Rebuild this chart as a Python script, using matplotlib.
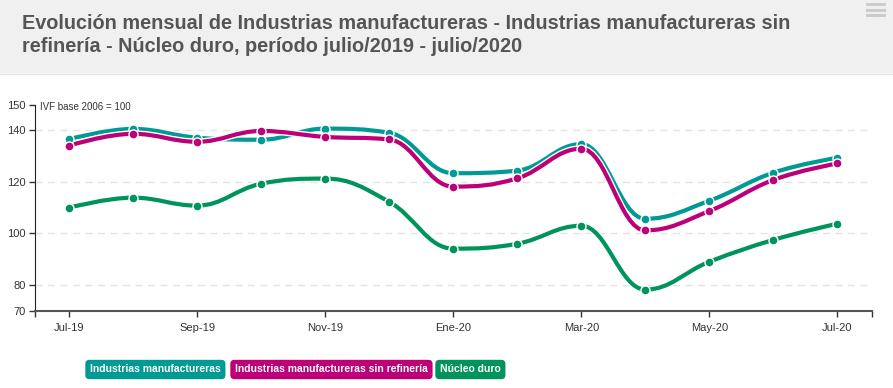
import numpy as np
import matplotlib
matplotlib.use('Agg')
import matplotlib.pyplot as plt
from matplotlib.path import Path
from matplotlib.patches import PathPatch, Rectangle
from matplotlib.lines import Line2D
import matplotlib.patheffects as pe

plt.rcParams['font.family'] = ['Liberation Sans', 'DejaVu Sans']

# data
months = ['Jul-19', 'Ago-19', 'Sep-19', 'Oct-19', 'Nov-19', 'Dic-19', 'Ene-20',
          'Feb-20', 'Mar-20', 'Abr-20', 'May-20', 'Jun-20', 'Jul-20']
ind_manuf = [136.6, 140.6, 137.2, 136.4, 140.7, 139.1, 123.4,
             124.4, 134.7, 105.7, 112.7, 123.6, 129.4]
ind_sin_ref = [134.1, 138.7, 135.6, 139.8, 137.5, 136.5, 118.2,
               121.4, 132.9, 101.2, 108.7, 120.8, 127.2]
nucleo_duro = [110.0, 113.9, 110.8, 119.3, 121.3, 112.3, 94.1,
               96.0, 103.0, 78.2, 89.0, 97.5, 103.8]
series_names = ['Industrias manufactureras',
                'Industrias manufactureras sin refinería',
                'Núcleo duro']
colors = ['#009a94', '#bb0078', '#00935c']
y_ticks = [70, 80, 100, 120, 140, 150]
grid_vals = [80, 100, 120, 140]

title = ('Evolución mensual de Industrias manufactureras - Industrias manufactureras sin\n'
         'refinería - Núcleo duro, período julio/2019 - julio/2020')


def spline_path(xs, ys, smoothing=1.5):
    # highcharts-like spline control points
    n = len(xs)
    denom = smoothing + 1
    lc = [(xs[i], ys[i]) for i in range(n)]
    rc = [(xs[i], ys[i]) for i in range(n)]
    for i in range(1, n - 1):
        px, py = xs[i], ys[i]
        lx, ly = xs[i - 1], ys[i - 1]
        nx, ny = xs[i + 1], ys[i + 1]
        lcx = (smoothing * px + lx) / denom
        lcy = (smoothing * py + ly) / denom
        rcx = (smoothing * px + nx) / denom
        rcy = (smoothing * py + ny) / denom
        corr = (rcy - lcy) * (rcx - px) / (rcx - lcx) + py - rcy
        lcy += corr
        rcy += corr
        if lcy > ly and lcy > py:
            lcy = max(ly, py); rcy = 2 * py - lcy
        elif lcy < ly and lcy < py:
            lcy = min(ly, py); rcy = 2 * py - lcy
        if rcy > ny and rcy > py:
            rcy = max(ny, py); lcy = 2 * py - rcy
        elif rcy < ny and rcy < py:
            rcy = min(ny, py); lcy = 2 * py - rcy
        lc[i] = (lcx, lcy)
        rc[i] = (rcx, rcy)
    verts = [(xs[0], ys[0])]
    codes = [Path.MOVETO]
    for i in range(1, n):
        verts += [rc[i - 1], lc[i], (xs[i], ys[i])]
        codes += [Path.CURVE4] * 3
    return Path(verts, codes)


fig = plt.figure(figsize=(8.93, 3.88), dpi=100)
W, H = 893.0, 388.0

# header band
fig.patches.append(Rectangle((0, 1 - 73 / H), 1, 73 / H, transform=fig.transFigure,
                             facecolor='#f0f0f0', edgecolor='none', zorder=0))
fig.lines.append(Line2D([0, 1], [1 - 73.5 / H] * 2, transform=fig.transFigure,
                        color='#e2e2e2', lw=1))
fig.text(22 / W, 1 - 52 / H, title, fontsize=14.3, fontweight='bold', color='#555555',
         va='baseline', ha='left', linespacing=1.25)
for yy in [4, 9.5, 15]:
    fig.lines.append(Line2D([867 / W, 884 / W], [1 - yy / H] * 2, transform=fig.transFigure,
                            color='#cccccc', lw=2.2))

ax = fig.add_axes([35 / W, 1 - 310.7 / H, (872 - 35) / W, (310.7 - 104.7) / H])
x = np.arange(len(months))

for v in grid_vals:
    ax.axhline(v, color='#e3e3e3', lw=1, ls=(0, (5, 4)), zorder=1)

data = [ind_manuf, ind_sin_ref, nucleo_duro]
for vals, c in zip(data, colors):
    p = PathPatch(spline_path(x, vals), facecolor='none', edgecolor=c, lw=3.0,
                  capstyle='round', zorder=3)
    p.set_path_effects([pe.Stroke(linewidth=5, foreground='white'), pe.Normal()])
    ax.add_patch(p)
    ax.plot(x, vals, 'o', ms=6.5, mfc=c, mec='white', mew=1.0, zorder=4)

ax.set_xlim(-0.53, 12.54)
ax.set_ylim(70, 150)
ax.set_yticks(y_ticks)
ax.set_xticks(x[::2])
ax.set_xticklabels(months[::2])
ax.set_xticks([-0.53, 12.54], minor=True)
ax.tick_params(axis='both', labelsize=8, colors='#333333', length=4.5, width=1, pad=2)
ax.tick_params(axis='x', which='minor', length=4.5, width=1, color='#333333')
ax.tick_params(axis='x', pad=4)
for s in ['top', 'right']:
    ax.spines[s].set_visible(False)
ax.spines['left'].set_color('#222222')
ax.spines['bottom'].set_color('#555555')
ax.spines['bottom'].set_linewidth(1.5)

ax.text(5 / 837, 1 - 5.6 / 206, 'IVF base 2006 = 100', transform=ax.transAxes,
        fontsize=7, color='#333333', va='baseline', ha='left')

# legend boxes
leg_x = [90, 235, 440]
for name, c, lx in zip(series_names, colors, leg_x):
    fig.text(lx / W, 1 - 369.5 / H, name, fontsize=7.5, fontweight='bold', color='white',
             ha='left', va='center',
             bbox=dict(boxstyle='round,pad=0.45,rounding_size=0.4', facecolor=c,
                       edgecolor='none'))

fig.savefig('out.png', dpi=100)
